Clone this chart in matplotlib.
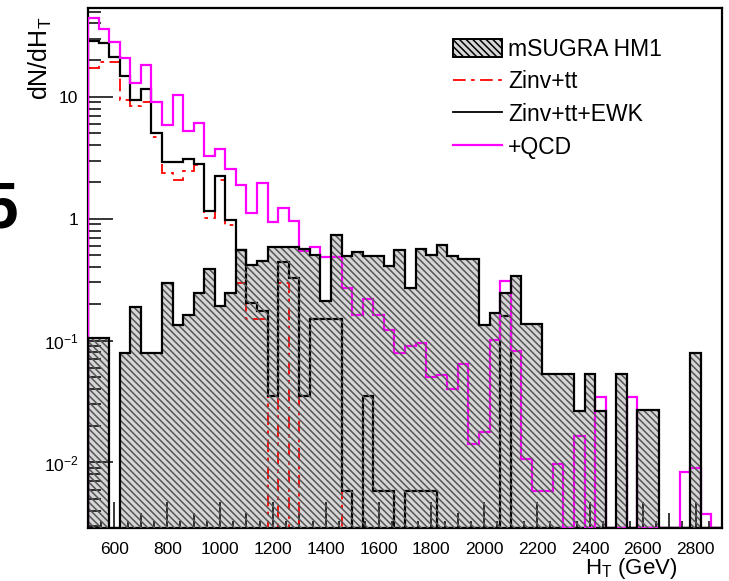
import numpy as np
import matplotlib.pyplot as plt
from matplotlib.patches import Patch
from matplotlib.lines import Line2D
from matplotlib.ticker import LogLocator, NullFormatter

plt.rcParams['font.family'] = ['Liberation Sans', 'DejaVu Sans']
plt.rcParams['mathtext.fontset'] = 'custom'
plt.rcParams['mathtext.rm'] = 'Liberation Sans'
plt.rcParams['mathtext.it'] = 'Liberation Sans'
plt.rcParams['hatch.linewidth'] = 1.1

# 60 bins of 40 GeV in H_T
bin_edges = np.arange(500, 2901, 40)

signal_hm1 = [0.105, 0.105, 0, 0.079, 0.189, 0.079, 0.079, 0.297, 0.135, 0.163,
              0.246, 0.389, 0.191, 0.246, 0.55, 0.42, 0.447, 0.582, 0.582, 0.582,
              0.564, 0.507, 0.21, 0.74, 0.497, 0.53, 0.497, 0.497, 0.41, 0.557,
              0.27, 0.564, 0.507, 0.612, 0.497, 0.467, 0.467, 0.135, 0.167, 0.246,
              0.341, 0.138, 0.138, 0.0537, 0.0537, 0.0527, 0.0263, 0.0527, 0.0263, 0,
              0.0527, 0, 0.0268, 0.0268, 0, 0, 0, 0.079, 0, 0]

zinv_tt = [17.2, 19.2, 19.2, 9.45, 8.34, 9.15, 4.72, 2.37, 2.09, 2.44,
           2.77, 1.01, 2.09, 0.893, 0.297, 0.149, 0.149, 0, 0.297, 0,
           0.0349, 0.149, 0.149, 0.149, 0, 0, 0, 0, 0, 0,
           0, 0, 0, 0, 0, 0, 0, 0, 0, 0.16,
           0, 0, 0, 0, 0, 0, 0, 0, 0, 0,
           0, 0, 0, 0, 0, 0, 0, 0, 0, 0]

zinv_tt_ewk = [28.9, 27.6, 21.2, 14.9, 9.45, 11.6, 5.04, 2.92, 2.92, 3.1,
               2.81, 1.15, 2.22, 0.97, 0.557, 0.204, 0.174, 0.0349, 0.44, 0.326,
               0.0349, 0.151, 0.151, 0.151, 0.0058, 0, 0.0349, 0.0058, 0.0058, 0,
               0.0058, 0.0058, 0.0058, 0, 0, 0, 0, 0, 0, 0.16,
               0, 0, 0, 0, 0, 0, 0, 0, 0, 0,
               0, 0, 0, 0, 0, 0, 0, 0, 0, 0]

plus_qcd = [44.2, 35.9, 28.4, 20.8, 13.1, 18.1, 9.15, 5.82, 10.4, 5.29,
            6.09, 3.28, 3.72, 2.56, 1.90, 1.11, 1.98, 0.94, 1.23, 0.95,
            0.54, 0.586, 0.485, 0.485, 0.27, 0.161, 0.221, 0.161, 0.123, 0.079,
            0.091, 0.096, 0.0507, 0.052, 0.0398, 0.0647, 0.0141, 0.0178, 0.101, 0.306,
            0.0817, 0.0106, 0.00582, 0.00582, 0.0097, 0, 0.0164, 0, 0.0347, 0,
            0, 0.0347, 0, 0, 0, 0, 0.0083, 0.00905, 0.0038, 0]

legend_labels = ['mSUGRA HM1', 'Zinv+tt', 'Zinv+tt+EWK', '+QCD']
y_low, y_high = 0.0029, 53.5

fig = plt.figure(figsize=(7.29, 5.81), dpi=100)
ax = fig.add_axes([0.1207, 0.0912, 0.8697, 0.895])
ax.set_yscale('log')


def floored(vals):
    # empty bins sit on the bottom of the frame
    return np.clip(np.asarray(vals, dtype=float), y_low, None)


red_dash = (0, (7, 3, 2, 3))
hatch = '\\\\\\\\\\'

# signal body first, background lines on it, then hatch on top
ax.stairs(floored(signal_hm1), bin_edges, baseline=y_low, fill=True,
          facecolor='#d6d6d6', edgecolor='none', zorder=1)
ax.stairs(floored(zinv_tt), bin_edges, baseline=y_low, color='red', lw=1.3,
          linestyle=red_dash, zorder=2)
ax.stairs(floored(zinv_tt_ewk), bin_edges, baseline=y_low, color='black', lw=1.6, zorder=2)
ax.stairs(floored(plus_qcd), bin_edges, baseline=y_low, color='#ff00ff', lw=1.6, zorder=3)
ax.stairs(floored(signal_hm1), bin_edges, baseline=y_low, fill=True,
          facecolor='none', edgecolor='#555555', hatch=hatch, linewidth=0, zorder=4)
ax.stairs(floored(signal_hm1), bin_edges, baseline=y_low, color='black', lw=1.6, zorder=5)

ax.set_xlim(500, 2900)
ax.set_ylim(y_low, y_high)

# x ticks: long every 200, medium every 100, short every 50
major_x = list(range(500, 2901, 100))
ax.set_xticks(major_x)
ax.set_xticklabels(['' if v < 600 or (v - 600) % 200 else str(v) for v in major_x])
ax.set_xticks(np.arange(550, 2900, 100), minor=True)
ax.tick_params(axis='x', which='major', direction='in', length=19, width=1.1, pad=10,
               labelsize=12.5, top=False)
ax.tick_params(axis='x', which='minor', direction='in', length=5, width=1.1, top=False)
for v, tick in zip(major_x, ax.xaxis.get_major_ticks()):
    if (v - 600) % 200:
        tick.tick1line.set_markersize(10.5)

ax.set_yticks([0.01, 0.1, 1, 10])
ax.set_yticklabels([r'10$^{-2}$', r'10$^{-1}$', '1', '10'])
ax.yaxis.set_minor_locator(LogLocator(base=10, subs=np.arange(2, 10)))
ax.yaxis.set_minor_formatter(NullFormatter())
ax.tick_params(axis='y', which='major', direction='in', length=18, width=1.1, pad=7,
               labelsize=12.5, right=False)
ax.tick_params(axis='y', which='minor', direction='in', length=9, width=1.1, right=False)

for sp in ax.spines.values():
    sp.set_linewidth(1.6)

handles = [
    Patch(facecolor='#d6d6d6', edgecolor='black', hatch=hatch, linewidth=1.4),
    Line2D([], [], color='red', lw=1.3, linestyle=red_dash),
    Line2D([], [], color='black', lw=1.3),
    Line2D([], [], color='#ff00ff', lw=1.6),
]
ax.legend(handles, legend_labels, loc='upper left', bbox_to_anchor=(0.576, 0.943),
          frameon=False, fontsize=16.5, borderpad=0, borderaxespad=0,
          handlelength=2.15, handleheight=0.85, handletextpad=0.25, labelspacing=0.42)

fig.text(0.055, 0.972, r'dN/dH$_{T}$', rotation=90, ha='center', va='top', fontsize=18)
fig.text(0.929, 0.0, r'H$_{T}$ (GeV)', ha='right', va='bottom', fontsize=16)
fig.text(0.0, 1 - 210 / 581, '5', ha='center', va='center', fontsize=46, fontweight='bold')

fig.savefig('out.png', dpi=100)
